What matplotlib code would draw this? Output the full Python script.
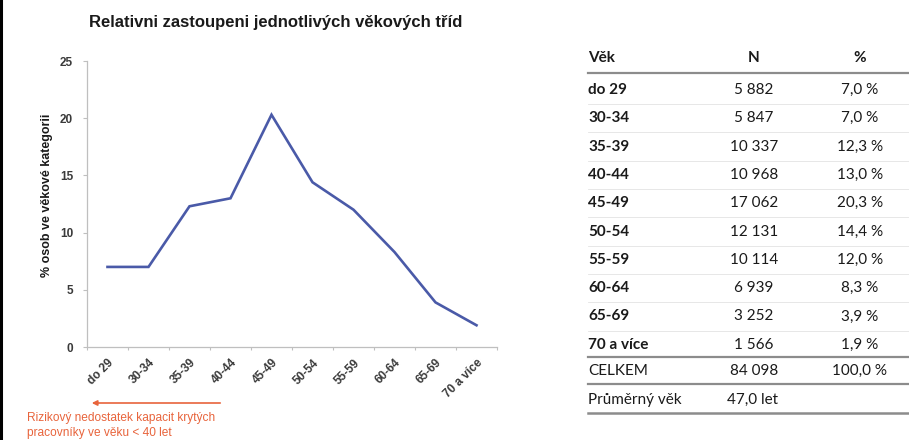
import matplotlib
matplotlib.use("Agg")
import matplotlib.pyplot as plt
from matplotlib.lines import Line2D

# věkové kategorie a jejich podíl (%)
kategorie = ["do 29", "30-34", "35-39", "40-44", "45-49",
             "50-54", "55-59", "60-64", "65-69", "70 a více"]
podil = [7.0, 7.0, 12.3, 13.0, 20.3, 14.4, 12.0, 8.3, 3.9, 1.9]

# tabulka vpravo
tab_vek = ["do 29", "30-34", "35-39", "40-44", "45-49",
           "50-54", "55-59", "60-64", "65-69", "70 a více"]
tab_n = ["5 882", "5 847", "10 337", "10 968", "17 062",
         "12 131", "10 114", "6 939", "3 252", "1 566"]
tab_pct = ["7,0 %", "7,0 %", "12,3 %", "13,0 %", "20,3 %",
           "14,4 %", "12,0 %", "8,3 %", "3,9 %", "1,9 %"]
celkem = ["CELKEM", "84 098", "100,0 %"]
prumer = ["Průměrný věk", "47,0 let"]

W, H = 909, 440
fig = plt.figure(figsize=(W / 100, H / 100), dpi=100)

def fx(px):
    return px / W

def fy(py):
    return 1 - py / H

# graf
ax = fig.add_axes([fx(87), fy(347), fx(497) - fx(87), fy(61) - fy(347)])
x = list(range(len(kategorie)))
ax.plot(x, podil, color="#4a5aa8", lw=1.9, solid_joinstyle="miter")
ax.set_xlim(-0.5, len(kategorie) - 0.5)
ax.set_ylim(0, 25)
ax.set_yticks([0, 5, 10, 15, 20, 25])
ax.set_xticks(x)
ax.set_xticklabels(kategorie, rotation=45, ha="right", va="top",
                   rotation_mode="anchor", fontsize=8.5, fontweight="bold",
                   color="#3a3a3a", family="Liberation Sans")
ax.set_xticks([i - 0.5 for i in range(len(kategorie) + 1)], minor=True)
ax.tick_params(axis="x", which="major", length=0, pad=7)
ax.tick_params(axis="x", which="minor", length=2.5, color="#bfbfbf", width=0.8)
ax.tick_params(axis="y", length=3, color="#bfbfbf", width=0.8, pad=7,
               labelsize=8.5, labelcolor="#3a3a3a")
for lab in ax.get_yticklabels():
    lab.set_family("Liberation Sans")
    lab.set_fontweight("bold")
for s in ["top", "right"]:
    ax.spines[s].set_visible(False)
for s in ["left", "bottom"]:
    ax.spines[s].set_color("#bfbfbf")
    ax.spines[s].set_linewidth(0.9)

fig.text(fx(276), fy(22), "Relativni zastoupeni jednotlivých věkových tříd",
         ha="center", va="center", fontsize=12, fontweight="bold",
         family="Liberation Sans", color="#1a1a1a")
fig.text(fx(47), fy(195), "% osob ve věkové kategorii", rotation=90,
         ha="center", va="center", fontsize=9, fontweight="bold",
         family="Liberation Sans", color="#1a1a1a")

# poznámka s šipkou
cervena = "#e8643c"
fig.add_artist(matplotlib.patches.FancyArrowPatch(
    (fx(223), fy(403)), (fx(89), fy(403)), transform=fig.transFigure,
    arrowstyle="-|>,head_length=3,head_width=1.5", color=cervena, lw=1.2))
fig.text(fx(27), fy(418), "Rizikový nedostatek kapacit krytých",
         ha="left", va="center", fontsize=8.6, color=cervena,
         family="Liberation Sans")
fig.text(fx(27), fy(433), "pracovníky ve věku < 40 let",
         ha="left", va="center", fontsize=8.6, color=cervena,
         family="Liberation Sans")

# levý okraj
fig.add_artist(Line2D([fx(1), fx(1)], [0, 1], color="black", lw=2.2,
                      transform=fig.transFigure))

# tabulka
col_vek, col_n, col_pct = 588, 754, 860
x0, x1 = 588, 909
tf = dict(family="Lato", fontsize=11, color="#1a1a1a", va="center")

def hline(py, lw, color):
    fig.add_artist(Line2D([fx(x0), fx(x1)], [fy(py), fy(py)], color=color,
                          lw=lw, transform=fig.transFigure))

fig.text(fx(col_vek), fy(58), "Věk", ha="left", fontweight="bold", **tf)
fig.text(fx(col_n), fy(58), "N", ha="center", fontweight="bold", **tf)
fig.text(fx(col_pct), fy(58), "%", ha="center", fontweight="bold", **tf)
hline(73, 1.6, "#8c8c8c")

row0, krok = 90, 28.3
for i, (v, n, p) in enumerate(zip(tab_vek, tab_n, tab_pct)):
    y = row0 + i * krok
    fig.text(fx(col_vek), fy(y), v, ha="left", fontweight="bold", **tf)
    fig.text(fx(col_n), fy(y), n, ha="center", **tf)
    fig.text(fx(col_pct), fy(y), p, ha="center", **tf)
    if i < len(tab_vek) - 1:
        hline(y + krok / 2, 0.6, "#e3e3e3")

hline(357, 1.6, "#8c8c8c")
fig.text(fx(col_vek), fy(371), celkem[0], ha="left", **tf)
fig.text(fx(col_n), fy(371), celkem[1], ha="center", **tf)
fig.text(fx(col_pct), fy(371), celkem[2], ha="center", **tf)
hline(384, 1.6, "#8c8c8c")
fig.text(fx(col_vek), fy(400), prumer[0], ha="left", **tf)
fig.text(fx(727), fy(400), prumer[1], ha="left", **tf)
hline(413, 1.8, "#8c8c8c")

fig.savefig("out.png", dpi=100)
